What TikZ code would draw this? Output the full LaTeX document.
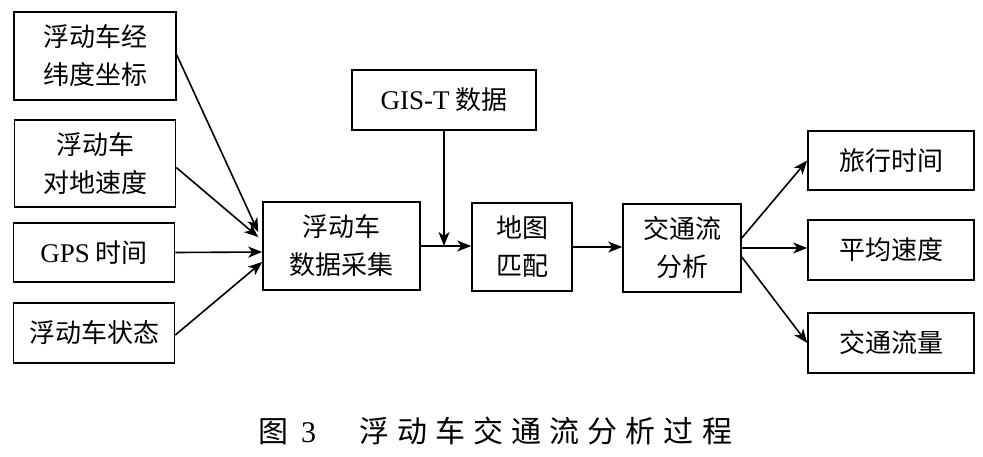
\documentclass[tikz,border=0pt]{standalone}
\usepackage{fontspec}
\setmainfont{Liberation Serif}
\newfontfamily\cjk{Noto Sans CJK SC}
\newfontfamily\capfont[LetterSpace=27]{Noto Sans CJK SC}
\usetikzlibrary{arrows.meta,calc}
\begin{document}
\begin{tikzpicture}[x=1pt,y=-1pt,
  box/.style={draw,line width=1.6pt,rectangle,inner sep=0pt,align=center,
    font=\fontsize{26}{38}\selectfont\cjk},
  arr/.style={line width=1.6pt,-{Stealth[length=14pt,width=11pt,inset=4pt]}}]
\useasboundingbox (0,0) rectangle (983,456);
\node[box,minimum width=162pt,minimum height=88pt] (b1) at (95,56) {浮动车经\\纬度坐标};
\node[box,minimum width=161pt,minimum height=87pt] (b2) at (95,163.5) {浮动车\\对地速度};
\node[box,minimum width=161pt,minimum height=59pt] (b3) at (94,252.5) {{\fontsize{27}{38}\rmfamily GPS} 时间};
\node[box,minimum width=161pt,minimum height=60pt] (b4) at (94,333) {浮动车状态};
\node[box,minimum width=157pt,minimum height=88pt] (col) at (341.5,246) {浮动车\\数据采集};
\node[box,minimum width=184pt,minimum height=60pt] (gis) at (444,100) {{\fontsize{27}{38}\rmfamily GIS-T} 数据};
\node[box,minimum width=100pt,minimum height=88pt] (map) at (522,247) {地图\\匹配};
\node[box,minimum width=118pt,minimum height=88pt] (tra) at (682,248) {交通流\\分析};
\node[box,minimum width=166pt,minimum height=59pt] (ra) at (891,160.5) {旅行时间};
\node[box,minimum width=166pt,minimum height=60pt] (rb) at (891,250) {平均速度};
\node[box,minimum width=166pt,minimum height=60pt] (rc) at (891,343) {交通流量};
\node[font=\fontsize{30}{32}\selectfont\cjk,anchor=west,inner sep=0pt] (cap) at (258,431) {图\hspace{13pt}{\fontsize{30}{32}\rmfamily 3}\hspace{43pt}{\capfont 浮动车交通流分析过程}};
\draw[arr] ($(b1.east)+(0,-1)$) -- ($(col.west)+(-4,-14)$);
\draw[arr] ($(b2.east)+(0,4)$) -- ($(col.west)+(-4,-9)$);
\draw[arr] (b3.east) -- ($(col.west)+(0,6)$);
\draw[arr] ($(b4.east)+(0,2)$) -- ($(col.west)+(0,16)$);
\draw[arr] (col.east) -- (col.east -| map.west);
\draw[arr] (gis.south) -- (gis.south |- col.east);
\draw[arr] (map.east) -- (map.east -| tra.west);
\draw[arr] ($(tra.east)+(0,-10)$) -- (ra.west);
\draw[arr] (tra.east) -- (tra.east -| rb.west);
\draw[arr] ($(tra.east)+(0,9)$) -- (rc.west);
\end{tikzpicture}
\end{document}
